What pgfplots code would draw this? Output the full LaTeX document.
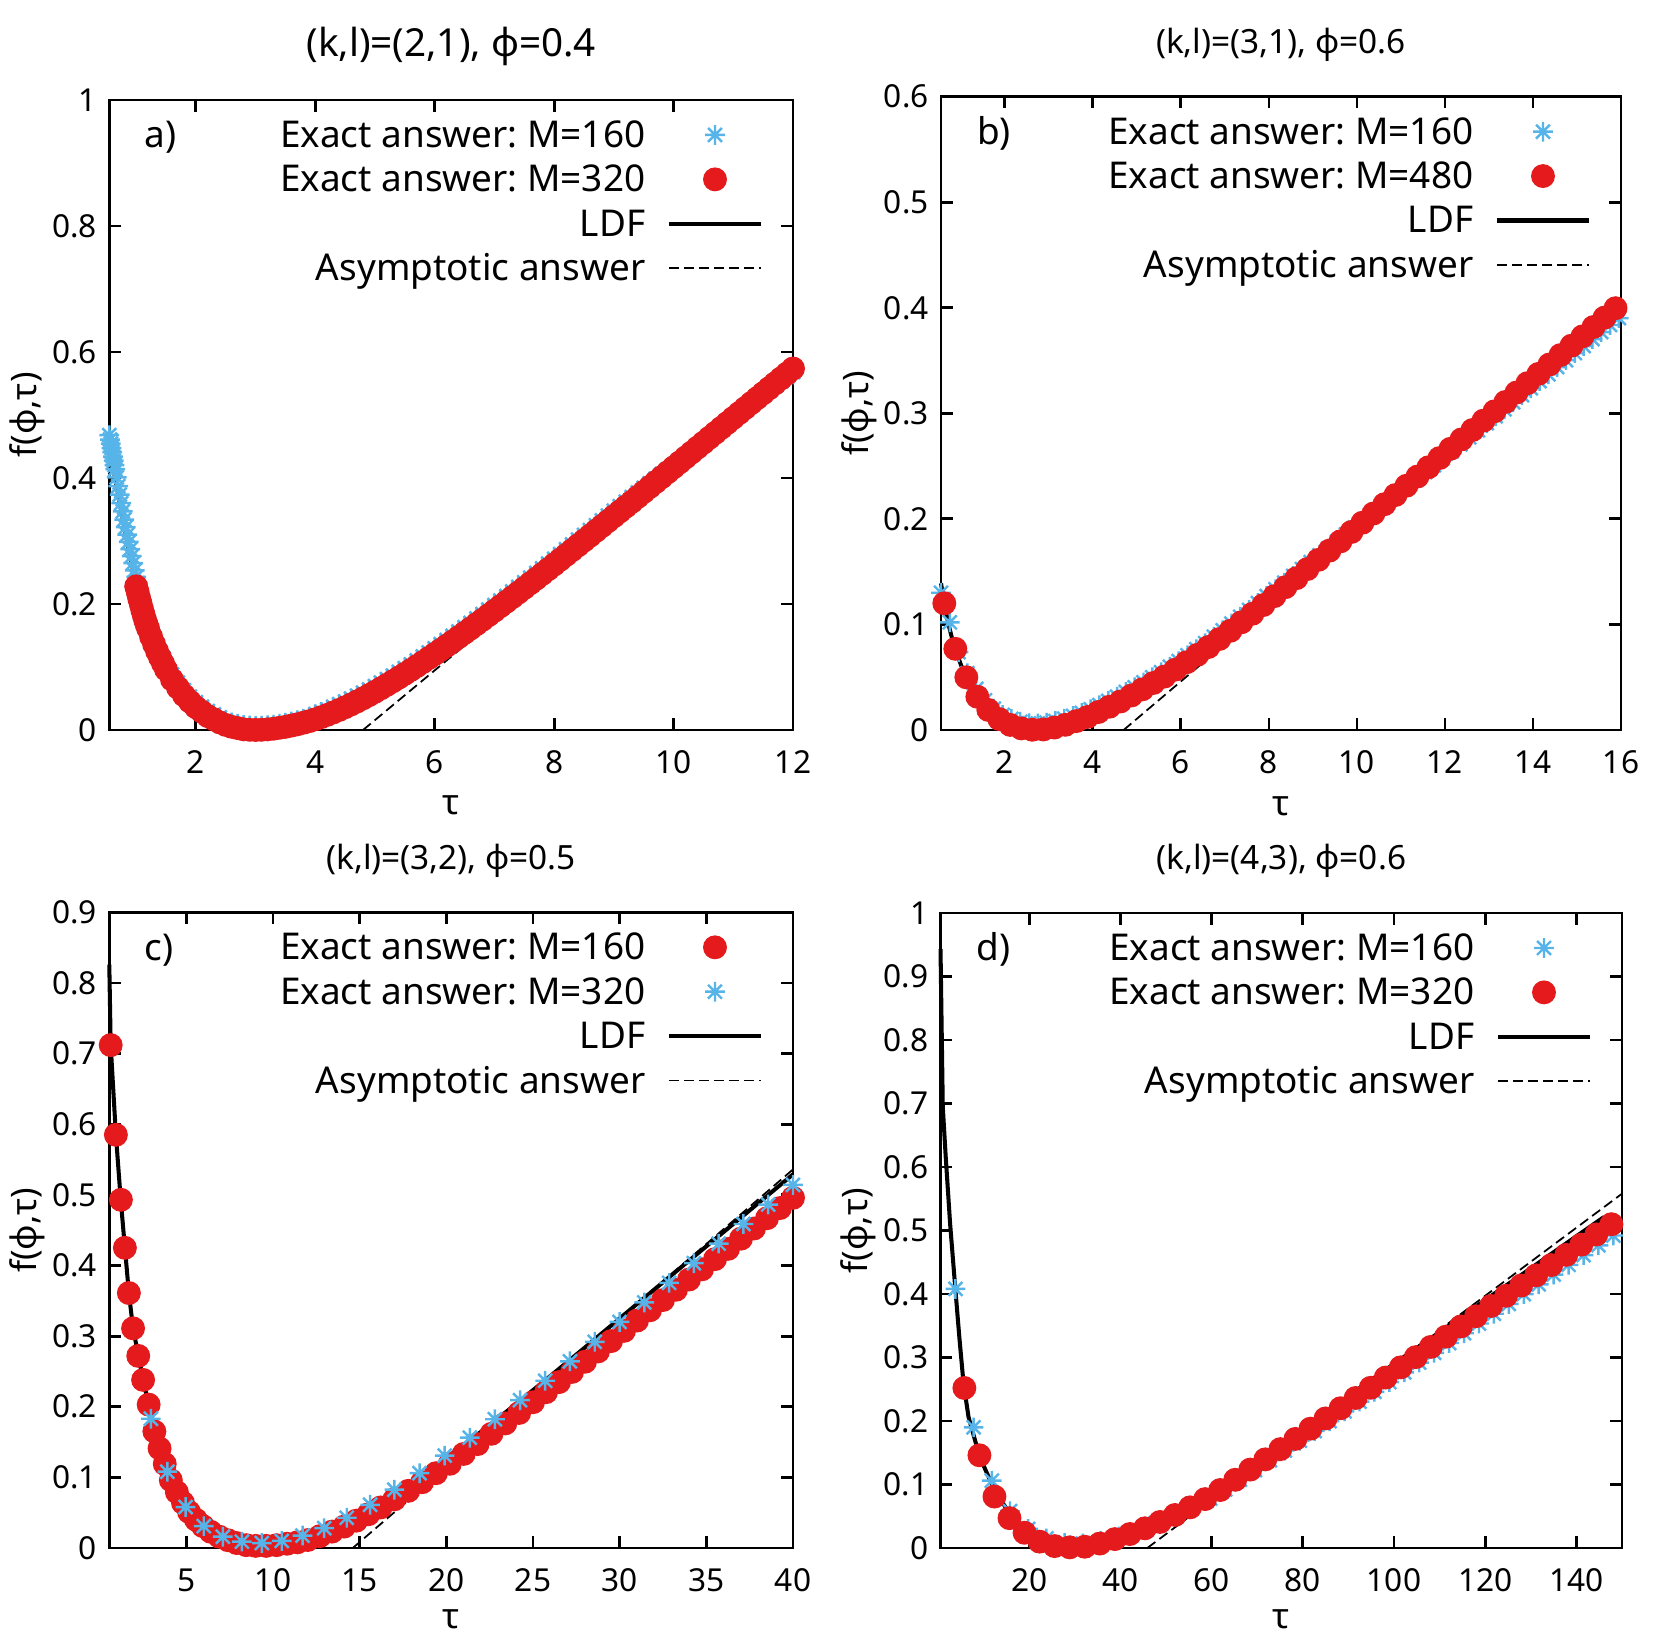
\documentclass[border=0pt]{standalone}
\usepackage{fontspec}
\setmainfont{Noto Sans}
\usepackage{pgfplots}
\usepackage{pgfplotstable}
\pgfplotsset{compat=1.18}

\definecolor{cblue}{RGB}{86,180,233}
\definecolor{cred}{RGB}{228,26,28}

% gnuplot-style 8-armed asterisk
\pgfdeclareplotmark{gstar}{%
  \pgfpathmoveto{\pgfqpoint{-\pgfplotmarksize}{0pt}}\pgfpathlineto{\pgfqpoint{\pgfplotmarksize}{0pt}}%
  \pgfpathmoveto{\pgfqpoint{0pt}{-\pgfplotmarksize}}\pgfpathlineto{\pgfqpoint{0pt}{\pgfplotmarksize}}%
  \pgfpathmoveto{\pgfqpoint{-0.7071\pgfplotmarksize}{-0.7071\pgfplotmarksize}}\pgfpathlineto{\pgfqpoint{0.7071\pgfplotmarksize}{0.7071\pgfplotmarksize}}%
  \pgfpathmoveto{\pgfqpoint{-0.7071\pgfplotmarksize}{0.7071\pgfplotmarksize}}\pgfpathlineto{\pgfqpoint{0.7071\pgfplotmarksize}{-0.7071\pgfplotmarksize}}%
  \pgfusepathqstroke}

\tikzset{plab/.style={anchor=base west, inner sep=0pt, font=\fontsize{10.5}{12}\selectfont}}

\pgfplotsset{
  panel/.style={
    scale only axis, clip=false,
    axis line style={line width=0.8pt},
    every tick/.style={black, line width=0.8pt},
    major tick length=0.117cm,
    tick align=inside, xtick pos=both, ytick pos=both,
    minor tick num=0,
    tick label style={font=\fontsize{9}{10}\selectfont},
    /pgf/number format/assume math mode=true,
    xticklabel style={yshift=-0.08cm},
    label style={font=\fontsize{10}{12}\selectfont},
    xlabel={τ}, ylabel={f(ϕ,τ)},
    xlabel style={at={(axis description cs:0.5,-0.12)}, anchor=center, inner sep=0pt},
    ylabel style={at={(axis description cs:-0.12,0.5)}, anchor=center, inner sep=0pt},
    every axis title shift=0pt,
    title style={at={(0.5,1)}, anchor=center, yshift=0.52cm, font=\fontsize{9.5}{11}\selectfont},
    legend cell align=right, legend plot pos=right,
    legend style={draw=none, fill=none, inner sep=0pt, outer sep=0pt,
      at={(1,1)}, anchor=north east, xshift=-0.30cm, yshift=-0.128cm,
      font=\fontsize{10.5}{12}\selectfont, column sep=0.217cm, row sep=0pt,
      nodes={inner sep=0pt, text height=0.347cm, text depth=0.097cm}},
    legend image code/.code={\draw[mark repeat=2,mark phase=2,##1] plot coordinates {(0cm,0cm) (0.46cm,0cm) (0.92cm,0cm)};},
  },
  lowrow/.style={xlabel style={at={(axis description cs:0.5,-0.112)}}},
  exblue/.style={only marks, mark=gstar, mark size=2.8pt, cblue, line width=0.7pt},
  exred/.style={only marks, mark=*, mark size=3.2pt, cred},
  ldf/.style={black, line width=1.15pt, mark=none},
  asym/.style={black, line width=0.5pt, dash pattern=on 0.1cm off 0.05cm, mark=none},
}

% panel a: x, LDF, M=160, M=320
\pgfplotstableread{
x ldf blue red
0.55 .452 .468 nan
0.5625 .4455 .461 nan
0.575 .4385 .4545 nan
0.5875 .4318 .4475 nan
0.6 .425 .441 nan
0.6125 .4183 .434 nan
0.625 .4115 .4275 nan
0.6375 .4048 .4205 nan
0.65 .398 .414 nan
0.675 .385 .401 nan
0.7 .372 .387 nan
0.725 .3595 .3735 nan
0.75 .347 .360 nan
0.775 .3345 .347 nan
0.8 .322 .334 nan
0.825 .310 .322 nan
0.85 .298 .310 nan
0.875 .2865 .2985 nan
0.9 .275 .287 nan
0.925 .264 .276 nan
0.95 .253 .265 nan
0.975 .2425 .2535 nan
1.0 .232 .243 .228
1.025 .222 .233 .219
1.05 .212 .223 .209
1.075 .2025 .2135 .2005
1.1 .193 .204 .191
1.125 .1845 .1955 .1828
1.15 .176 .187 .1745
1.175 .169 .179 .1675
1.2 .162 .172 .161
1.25 .149 .158 .148
1.3 .137 .146 .136
1.35 .126 .135 .125
1.4 .115 .124 .115
1.45 .1055 .1145 .1055
1.5 .096 .104 .096
1.6 .080 .088 .080
1.7 .067 .075 .067
1.8 .055 .063 .055
1.9 .045 .053 .045
2.0 .036 .044 .036
2.1 .029 .037 .029
2.2 .022 .030 .022
2.3 .017 .025 .017
2.4 .012 .020 .012
2.5 .008 .015 .008
2.6 .005 .012 .005
2.7 .003 .010 .003
2.8 .001 .008 .001
2.9 .0003 .007 .0003
3.0 0 .0065 0
3.1 .0003 .0068 .0003
3.2 .001 .0075 .001
3.3 .002 .0085 .002
3.4 .0035 .010 .0035
3.5 .005 .0115 .005
3.6 .007 .0135 .007
3.7 .009 .0155 .009
3.8 .0115 .018 .0115
3.9 .014 .021 .014
4.0 .017 .025 .017
4.1 .0204 .0284 .0204
4.2 .024 .032 .024
4.3 .0278 .0368 .0278
4.4 .0318 .0408 .0318
4.5 .0361 .0451 .0361
4.6 .0406 .0496 .0406
4.7 .0453 .0543 .0453
4.8 .0502 .0592 .0502
4.9 .0553 .0643 .0553
5.0 .0606 .0696 .0606
5.1 .0661 .0751 .0661
5.2 .0717 .0807 .0717
5.3 .0774 .0864 .0774
5.4 .0832 .0922 .0832
5.5 .0891 .0981 .0891
5.6 .0952 .1042 .0952
5.7 .1014 .1104 .1014
5.8 .1077 .1167 .1077
5.9 .1141 .1231 .1141
6.0 .1206 .1296 .1206
6.1 .1272 .1362 .1272
6.2 .1338 .1428 .1338
6.3 .1405 .1495 .1405
6.4 .1473 .1563 .1473
6.5 .1541 .1631 .1541
6.6 .1610 .1700 .1610
6.7 .1680 .1770 .1680
6.8 .1750 .1840 .1750
6.9 .1821 .1911 .1821
7.0 .1892 .1982 .1892
7.1 .1964 .2054 .1964
7.2 .2036 .2126 .2036
7.3 .2108 .2198 .2108
7.4 .2181 .2271 .2181
7.5 .2254 .2344 .2254
7.6 .2328 .2418 .2328
7.7 .2402 .2492 .2402
7.8 .2476 .2566 .2476
7.9 .2551 .2641 .2551
8.0 .2626 .2716 .2626
8.1 .2702 .2792 .2702
8.2 .2778 .2868 .2778
8.3 .2854 .2944 .2854
8.4 .2930 .3020 .2930
8.5 .3006 .3096 .3006
8.6 .3083 .3173 .3083
8.7 .3160 .3250 .3160
8.8 .3237 .3327 .3237
8.9 .3314 .3404 .3314
9.0 .3391 .3481 .3391
9.1 .3468 .3553 .3468
9.2 .3545 .3625 .3545
9.3 .3622 .3697 .3622
9.4 .3700 .3770 .3700
9.5 .3778 .3843 .3778
9.6 .3856 .3916 .3856
9.7 .3934 .3989 .3934
9.8 .4012 .4062 .4012
9.9 .4090 .4135 .4090
10.0 .4168 .4208 .4168
10.1 .4246 .4281 .4246
10.2 .4325 .4355 .4325
10.3 .4403 .4428 .4403
10.4 .4482 .4502 .4482
10.5 .4560 .4575 .4560
10.6 .4639 .4649 .4639
10.7 .4717 .4722 .4717
10.8 .4796 .4796 .4796
10.9 .4874 .4869 .4874
11.0 .4953 .4943 .4953
11.1 .5031 .5016 .5031
11.2 .5110 .5090 .5110
11.3 .5188 .5163 .5188
11.4 .5267 .5237 .5267
11.5 .5345 .5310 .5345
11.6 .5424 .5384 .5424
11.7 .5502 .5457 .5502
11.8 .5581 .5531 .5581
11.9 .5659 .5604 .5659
12.0 .5738 .5678 .5738
}\tabA

% panel b
\pgfplotstableread{
x y
0.55 .139
0.6 .126
0.65 .114
0.7 .104
0.75 .095
0.8 .087
0.9 .0735
1.0 .062
1.1 .052
1.2 .0435
1.3 .036
1.4 .030
1.5 .0245
1.6 .020
1.7 .016
1.8 .0125
1.9 .0095
2.0 .007
2.2 .0035
2.4 .0012
2.6 .0002
2.8 .0002
3.0 .0012
3.2 .003
3.4 .0052
3.6 .008
3.8 .011
4.0 .0145
4.5 .0245
5.0 .0355
5.5 .0475
6.0 .0605
6.5 .0748
7.0 .0900
7.5 .1060
8.0 .1225
8.5 .1395
9.0 .1568
9.5 .1743
10.0 .192
11.0 .227
12.0 .262
13.0 .2975
14.0 .333
15.0 .3685
16.0 .404
}\ldfB

\pgfplotstableread{
x y
0.55 .130
0.75 .102
0.95 .0737
1.15 .0537
1.35 .039
1.55 .0282
1.75 .0202
1.95 .0142
2.15 .0104
2.35 .0078
2.55 .0064
2.75 .0062
2.95 .0069
3.15 .0085
3.35 .0107
3.55 .0133
3.75 .0162
3.95 .0196
4.15 .0235
4.35 .0275
4.55 .0316
4.75 .036
4.95 .0404
5.15 .0451
5.35 .0499
5.55 .0548
5.75 .0599
5.95 .0652
6.15 .0708
6.35 .0765
6.55 .0823
6.75 .0884
6.95 .0945
7.15 .1008
7.35 .1072
7.55 .1137
7.75 .1203
7.95 .1269
8.15 .1333
8.35 .1396
8.55 .1460
8.75 .1524
8.95 .1590
9.15 .1655
9.35 .1720
9.55 .1785
9.75 .1853
9.95 .1918
10.15 .1985
10.35 .2050
10.55 .2116
10.75 .2181
10.95 .2247
11.15 .2312
11.35 .2378
11.55 .2443
11.75 .2509
11.95 .2574
12.15 .2640
12.35 .2706
12.55 .2773
12.75 .2839
12.95 .2906
13.15 .2972
13.35 .3039
13.55 .3105
13.75 .3172
13.95 .3238
14.15 .3305
14.35 .3371
14.55 .3438
14.75 .3504
14.95 .3571
15.15 .3637
15.35 .3704
15.55 .3770
15.75 .3837
15.95 .3903
}\blueB

\pgfplotstableread{
x y
0.625 .120
0.875 .0769
1.125 .0499
1.375 .0315
1.625 .019
1.875 .0103
2.125 .0048
2.375 .0015
2.625 .0002
2.875 .0005
3.125 .0023
3.375 .0049
3.625 .0084
3.875 .0123
4.125 .017
4.375 .022
4.625 .027
4.875 .0327
5.125 .0385
5.375 .0445
5.625 .0506
5.875 .0572
6.125 .0641
6.375 .0712
6.625 .0786
6.875 .0862
7.125 .0940
7.375 .1020
7.625 .1101
7.875 .1184
8.125 .1268
8.375 .1353
8.625 .1438
8.875 .1525
9.125 .1612
9.375 .1699
9.625 .1787
9.875 .1876
10.125 .1964
10.375 .2051
10.625 .2139
10.875 .2226
11.125 .2314
11.375 .2401
11.625 .2489
11.875 .2576
12.125 .2664
12.375 .2753
12.625 .2842
12.875 .2931
13.125 .3019
13.375 .3108
13.625 .3197
13.875 .3286
14.125 .3374
14.375 .3463
14.625 .3552
14.875 .3641
15.125 .3729
15.375 .3818
15.625 .3907
15.875 .3996
}\redB

% panel c
\pgfplotstableread{
x y
0.55 .826
0.63 .712
0.93 .585
1.21 .493
1.45 .425
1.68 .361
1.92 .311
2.2 .276
2.5 .238
2.82 .203
3.17 .168
3.45 .143
3.74 .120
4.2 .091
4.5 .076
4.8 .063
5.1 .050
9.0 0
10.0 .003
11.0 .008
12.0 .0145
13.0 .0235
14.0 .0345
15.0 .0475
16.0 .062
17.0 .0775
18.0 .0935
19.0 .110
20.0 .1275
22.0 .1645
24.0 .2035
26.0 .2435
28.0 .284
30.0 .325
32.0 .366
34.0 .4068
36.0 .4475
38.0 .4883
40.0 .529
}\ldfC

\pgfplotstableread{
x y
0.63 .712
0.93 .585
1.22 .493
1.45 .425
1.68 .361
1.92 .311
2.22 .272
2.5 .238
2.82 .203
3.15 .165
3.45 .141
3.75 .119
4.1 .096
4.45 .079
4.8 .064
5.15 .051
5.55 .040
5.95 .031
6.4 .023
6.9 .016
7.4 .011
7.9 .007
8.45 .004
9.0 .003
9.6 .003
10.2 .004
10.8 .006
11.4 .008
12.0 .0113
12.7 .0168
13.4 .0232
14.1 .0303
14.8 .0387
15.5 .0478
16.2 .0574
17.0 .0689
17.8 .0809
18.6 .0931
19.4 .1059
20.2 .1192
21.0 .1332
21.8 .1471
22.6 .1617
23.4 .1764
24.2 .1912
25.0 .2064
25.75 .2206
26.5 .2349
27.25 .2493
28.0 .2637
28.75 .2783
29.5 .2929
30.25 .3074
31.0 .3220
31.75 .3366
32.5 .3511
33.25 .3656
34.0 .3801
34.75 .3946
35.5 .4090
36.25 .4235
37.0 .4380
37.75 .4524
38.5 .4669
39.25 .4813
40.0 .4958
}\redC

\pgfplotstableread{
x y
2.95 .183
3.9 .108
4.95 .058
6.0 .031
7.1 .016
8.2 .009
9.35 .007
10.5 .010
11.7 .0176
12.95 .0281
14.25 .0428
15.6 .0612
17.0 .0825
18.45 .1059
19.9 .1308
21.35 .1562
22.8 .1823
24.25 .2093
25.7 .2368
27.13 .2643
28.56 .2919
29.99 .3200
31.42 .3477
32.85 .3754
34.28 .4032
35.71 .4309
37.14 .4587
38.57 .4863
40.0 .5140
}\blueC

% panel d
\pgfplotstableread{
x y
0.55 .943
1.05 .694
1.7 .615
2.66 .51
3.8 .408
4.7 .33
5.6 .259
6.7 .206
8.3 .165
10.1 .128
12.7 .086
16.3 .049
19.9 .023
23.0 .011
25.8 .005
28.0 .0015
30.0 0
32.0 .0008
35.0 .004
38.1 .010
41.5 .018
45.4 .028
49.0 .040
52.6 .055
56.0 .0705
60.0 .090
63.5 .107
70.0 .139
80.0 .189
90.0 .2395
100.0 .290
110.0 .340
120.0 .3905
130.0 .4405
140.0 .491
146.0 .521
}\ldfD

\pgfplotstableread{
x y
3.82 .408
7.81 .190
11.8 .106
15.79 .058
19.78 .030
23.77 .015
27.76 .008
31.75 .007
35.74 .011
39.73 .018
43.72 .028
47.71 .039
51.7 .051
55.69 .064
59.68 .078
62.955 .0920
66.23 .1074
69.505 .1228
72.78 .1382
76.055 .1536
79.33 .1689
82.605 .1843
85.88 .1997
89.155 .2151
92.43 .2305
95.705 .2459
98.98 .2612
102.255 .2766
105.53 .2920
108.805 .3074
112.08 .3228
115.355 .3382
118.63 .3535
121.905 .3689
125.18 .3843
128.455 .3998
131.73 .4152
135.005 .4306
138.28 .4459
141.555 .4613
144.83 .4767
148.105 .4921
}\blueD

\pgfplotstableread{
x y
5.78 .252
9.08 .146
12.38 .081
15.68 .047
18.98 .024
22.28 .010
25.58 .003
28.88 .001
32.18 .002
35.48 .007
38.78 .014
42.08 .022
45.38 .031
48.68 .041
51.98 .052
55.28 .064
58.58 .077
61.88 .0913
65.18 .1074
68.48 .1235
71.78 .1396
75.08 .1557
78.38 .1718
81.68 .1879
84.98 .2040
88.28 .2201
91.58 .2362
94.88 .2523
98.18 .2684
101.48 .2845
104.78 .3006
108.08 .3167
111.38 .3328
114.68 .3489
117.98 .3650
121.28 .3811
124.58 .3972
127.88 .4133
131.18 .4294
134.48 .4455
137.78 .4616
141.08 .4777
144.38 .4938
147.68 .5099
}\redD

\begin{document}
\frenchspacing
\begin{tikzpicture}
\path[use as bounding box] (0,0) rectangle (16.61,16.38);

% ---- a ----
\begin{axis}[panel, at={(1.093cm,9.08cm)}, width=6.837cm, height=6.30cm,
  xmin=0.55, xmax=12, ymin=0, ymax=1,
  xtick={2,4,...,12}, ytick={0,0.2,...,1},
  title={(k,l)=(2,1), ϕ=0.4}, title style={font=\fontsize{11}{13}\selectfont, yshift=0.02cm}]
  \addplot[exblue] table[x=x,y=blue] {\tabA};
  \addlegendentry{Exact answer: M=160}
  \addplot[exred] table[x=x,y=red] {\tabA};
  \addlegendentry{Exact answer: M=320}
  \addplot[ldf] table[x=x,y=ldf] {\tabA};
  \addlegendentry{LDF}
  \addplot[asym] coordinates {(4.8,0) (12,0.568)};
  \addlegendentry{Asymptotic answer}
  \node[plab] at (axis description cs:0.0508,0.9246) {a)};
\end{axis}

% ---- b ----
\begin{axis}[panel, at={(9.41cm,9.08cm)}, width=6.80cm, height=6.333cm,
  xmin=0.55, xmax=16, ymin=0, ymax=0.6,
  xtick={2,4,...,16}, ytick={0,0.1,...,0.6},
  title={(k,l)=(3,1), ϕ=0.6}]
  \addplot[exblue] table {\blueB};
  \addlegendentry{Exact answer: M=160}
  \addplot[exred] table {\redB};
  \addlegendentry{Exact answer: M=480}
  \addplot[ldf] table {\ldfB};
  \addlegendentry{LDF}
  \addplot[asym] coordinates {(4.7,0) (16,0.400)};
  \addlegendentry{Asymptotic answer}
  \node[plab] at (axis description cs:0.0521,0.9246) {b)};
\end{axis}

% ---- c ----
\begin{axis}[panel, lowrow, at={(1.093cm,0.90cm)}, width=6.837cm, height=6.357cm,
  xmin=0.55, xmax=40, ymin=0, ymax=0.9,
  xtick={5,10,...,40}, ytick={0,0.1,...,0.9},
  title={(k,l)=(3,2), ϕ=0.5}]
  \addplot[exred] table {\redC};
  \addlegendentry{Exact answer: M=160}
  \addplot[exblue] table {\blueC};
  \addlegendentry{Exact answer: M=320}
  \addplot[ldf] table {\ldfC};
  \addlegendentry{LDF}
  \addplot[asym] coordinates {(14.6,0) (40,0.536)};
  \addlegendentry{Asymptotic answer}
  \node[plab] at (axis description cs:0.0508,0.9246) {c)};
\end{axis}

% ---- d ----
\begin{axis}[panel, lowrow, at={(9.405cm,0.90cm)}, width=6.815cm, height=6.35cm,
  xmin=0.55, xmax=150, ymin=0, ymax=1,
  xtick={20,40,...,140}, ytick={0,0.1,...,1},
  title={(k,l)=(4,3), ϕ=0.6}]
  \addplot[exblue] table {\blueD};
  \addlegendentry{Exact answer: M=160}
  \addplot[exred] table {\redD};
  \addlegendentry{Exact answer: M=320}
  \addplot[ldf] table {\ldfD};
  \addlegendentry{LDF}
  \addplot[asym] coordinates {(45.9,0) (150,0.558)};
  \addlegendentry{Asymptotic answer}
  \node[plab] at (axis description cs:0.0521,0.9246) {d)};
\end{axis}
\end{tikzpicture}
\end{document}
